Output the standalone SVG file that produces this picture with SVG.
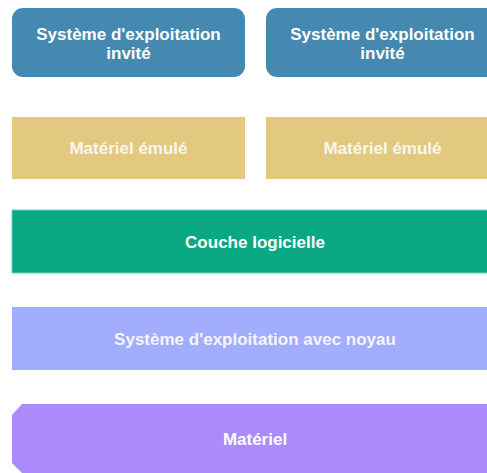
<svg xmlns="http://www.w3.org/2000/svg" width="487" height="473" viewBox="0 0 487 473">
  <style>
    .lbl { font-family: "Liberation Sans", Arial, sans-serif; font-weight: bold; font-size: 17px; text-anchor: middle; fill: #ffffff; }
    .soft { fill: #fbf6ec; }
    .guest { fill: #4589b0; }
    .emu { fill: #e3c97f; }
    .soft-layer { fill: #0aa882; stroke: #5fd6c0; stroke-width: 1; }
    .host { fill: #a3adfd; }
    .hw { fill: #ab8afb; }
  </style>
  <rect width="487" height="473" fill="#ffffff"/>

  <g id="guest-os-1">
    <rect class="guest" x="12" y="8" width="233" height="69" rx="11"/>
    <text class="lbl" x="128.5" y="40">Système d'exploitation</text>
    <text class="lbl" x="128.5" y="59">invité</text>
  </g>

  <g id="guest-os-2">
    <rect class="guest" x="266" y="8" width="233" height="69" rx="11"/>
    <text class="lbl" x="382.5" y="40">Système d'exploitation</text>
    <text class="lbl" x="382.5" y="59">invité</text>
  </g>

  <g id="emulated-hw-1">
    <rect class="emu" x="12" y="117" width="233" height="62"/>
    <text class="lbl soft" x="128.5" y="154">Matériel émulé</text>
  </g>

  <g id="emulated-hw-2">
    <rect class="emu" x="266" y="117" width="233" height="62"/>
    <text class="lbl soft" x="382.5" y="154">Matériel émulé</text>
  </g>

  <g id="software-layer">
    <rect class="soft-layer" x="12" y="210" width="490" height="63"/>
    <text class="lbl" x="255" y="248">Couche logicielle</text>
  </g>

  <g id="host-os">
    <rect class="host" x="12" y="307" width="490" height="63"/>
    <text class="lbl" x="255" y="345" fill-opacity="0.9">Système d'exploitation avec noyau</text>
  </g>

  <g id="hardware">
    <polygon class="hw" points="22,404 500,404 500,473 22,473 12,463 12,415"/>
    <text class="lbl" x="255" y="445">Matériel</text>
  </g>

  <g id="connectors"></g>
</svg>
